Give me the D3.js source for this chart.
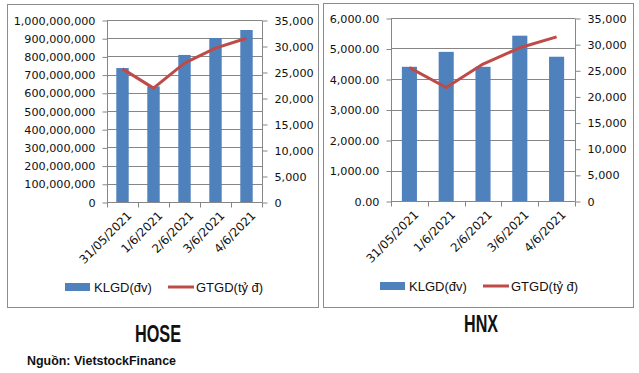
<!DOCTYPE html>
<html>
<head>
	<meta charset="utf-8">
	<script src="https://cdn.jsdelivr.net/npm/d3@7"></script>
	<style>
		html, body {
			padding: 0;
			margin: 0;
			background: #ffffff;
		}
	</style>
</head>
<body>
	<script>
		var width = 639, height = 373;

		// chart data
		var dates = ["31/05/2021", "1/6/2021", "2/6/2021", "3/6/2021", "4/6/2021"];
		var hoseKLGD = [736000000, 635000000, 808000000, 901000000, 945000000];
		var hoseGTGD = [25600, 21900, 26700, 29600, 31500];
		var hnxKLGD = [4400, 4890, 4400, 5420, 4730];
		var hnxGTGD = [25500, 21700, 26200, 29300, 31400];
		var hoseLeftTicks = [0, 100000000, 200000000, 300000000, 400000000, 500000000, 600000000, 700000000, 800000000, 900000000, 1000000000];
		var hnxLeftTicks = [0, 1000, 2000, 3000, 4000, 5000, 6000];
		var rightTicks = [0, 5000, 10000, 15000, 20000, 25000, 30000, 35000];
		var legendNames = ["KLGD(đv)", "GTGD(tỷ  đ)"];

		var barColor = "#4F81BD", lineColor = "#BE4B48", axisColor = "#868686";
		var tickFont = "DejaVu Sans, Verdana, sans-serif";

		var svg = d3.select("body").append("svg")
			.attr("width", width)
			.attr("height", height)
			.style("display", "block");

		function drawPanel(p) {
			var g = svg.append("g");

			// outer frame
			g.append("rect")
				.attr("x", p.frame[0] + 0.5).attr("y", p.frame[1] + 0.5)
				.attr("width", p.frame[2] - p.frame[0]).attr("height", p.frame[3] - p.frame[1])
				.attr("fill", "none").attr("stroke", "#8c8c8c").attr("stroke-width", 1);

			var x = d3.scaleBand().domain(dates).range([p.left, p.right]).paddingInner(p.pad).paddingOuter(p.pad / 2);
			var xb = d3.scaleBand().domain(dates).range([p.left, p.right]);
			var yL = d3.scaleLinear().domain([0, p.leftMax]).range([p.bottom, p.top]);
			var yR = d3.scaleLinear().domain([0, 35000]).range([p.bottom, p.top]);

			// gridlines
			g.selectAll(".grid").data(p.leftTicks.slice(1)).enter().append("line")
				.attr("x1", p.left).attr("x2", p.right)
				.attr("y1", function(d) { return Math.round(yL(d)) + 0.5; })
				.attr("y2", function(d) { return Math.round(yL(d)) + 0.5; })
				.attr("stroke", axisColor).attr("stroke-width", 1);

			// bars
			g.selectAll(".bar").data(p.bars).enter().append("rect")
				.attr("x", function(d, i) { return x(dates[i]); })
				.attr("y", function(d) { return yL(d); })
				.attr("width", x.bandwidth())
				.attr("height", function(d) { return p.bottom - yL(d); })
				.attr("fill", barColor);

			// left axis
			var la = g.append("g").attr("transform", "translate(" + (p.left + 0.5) + ",0.5)")
				.call(d3.axisLeft(yL).tickValues(p.leftTicks).tickFormat(p.leftFormat).tickSize(5).tickPadding(7));
			// right axis
			var ra = g.append("g").attr("transform", "translate(" + (p.right + 0.5) + ",0.5)")
				.call(d3.axisRight(yR).tickValues(rightTicks).tickFormat(d3.format(",")).tickSize(5).tickPadding(7));
			// x axis with ticks at category boundaries
			var xa = g.append("g").attr("transform", "translate(0," + (p.bottom + 0.5) + ")");
			xa.append("line").attr("x1", p.left).attr("x2", p.right).attr("stroke", axisColor);
			xa.selectAll(".xt").data(dates.concat(["end"])).enter().append("line")
				.attr("x1", function(d, i) { return Math.round(i < dates.length ? xb(d) : p.right) + 0.5; })
				.attr("x2", function(d, i) { return Math.round(i < dates.length ? xb(d) : p.right) + 0.5; })
				.attr("y1", 0).attr("y2", 5).attr("stroke", axisColor);
			xa.selectAll(".xl").data(dates).enter().append("text")
				.attr("transform", function(d) { return "translate(" + (xb(d) + xb.bandwidth() / 2 + 4) + ",8) rotate(-45)"; })
				.attr("text-anchor", "end").attr("dy", "0.7em")
				.style("font-family", tickFont).style("font-size", "11.8px").attr("fill", "#111")
				.text(function(d) { return d; });

			[la, ra].forEach(function(a) {
				a.select(".domain").attr("stroke", axisColor);
				a.selectAll(".tick line").attr("stroke", axisColor);
				a.selectAll(".tick text").style("font-family", tickFont).style("font-size", "11.2px").attr("fill", "#111");
			});
			la.select(".domain").attr("d", "M0," + p.top + "V" + p.bottom);
			ra.select(".domain").attr("d", "M0," + p.top + "V" + p.bottom);

			// line
			var line = d3.line()
				.x(function(d, i) { return xb(dates[i]) + xb.bandwidth() / 2; })
				.y(function(d) { return yR(d); });
			g.append("path").datum(p.line).attr("d", line)
				.attr("fill", "none").attr("stroke", lineColor).attr("stroke-width", 3)
				.attr("stroke-linejoin", "round");

			// legend
			var lg = g.append("g").attr("transform", "translate(0," + p.legendY + ")");
			lg.append("rect").attr("x", p.legendX).attr("y", -4).attr("width", 25).attr("height", 8).attr("fill", barColor);
			lg.append("text").attr("x", p.legendX + 29).attr("dy", "0.35em")
				.style("font-family", "Liberation Sans, Arial, sans-serif").style("font-size", "13px").attr("fill", "#111")
				.text(legendNames[0]);
			lg.append("line").attr("x1", p.legendX + 103).attr("x2", p.legendX + 129)
				.attr("stroke", lineColor).attr("stroke-width", 3);
			lg.append("text").attr("x", p.legendX + 131).attr("dy", "0.35em")
				.style("font-family", "Liberation Sans, Arial, sans-serif").style("font-size", "13px").attr("fill", "#111")
				.text(legendNames[1]);

			// title under the panel, condensed
			svg.append("text").attr("x", p.titleX - p.titleW / 2).attr("y", p.titleY)
				.attr("textLength", p.titleW).attr("lengthAdjust", "spacingAndGlyphs")
				.style("font-family", "Liberation Sans Narrow, Arial Narrow, sans-serif")
				.style("font-weight", "bold").style("font-size", "24px").attr("fill", "#111")
				.text(p.title);
		}

		drawPanel({
			frame: [7, 4, 318, 307],
			left: 107, right: 262, top: 20, bottom: 202, pad: 0.6,
			leftMax: 1000000000, leftTicks: hoseLeftTicks, leftFormat: d3.format(","),
			bars: hoseKLGD, line: hoseGTGD,
			legendX: 65, legendY: 287,
			title: "HOSE", titleX: 158, titleY: 342, titleW: 46
		});

		drawPanel({
			frame: [323, 3, 633, 307],
			left: 391, right: 575, top: 18, bottom: 201, pad: 0.59,
			leftMax: 6000, leftTicks: hnxLeftTicks, leftFormat: d3.format(",.2f"),
			bars: hnxKLGD, line: hnxGTGD,
			legendX: 380, legendY: 286,
			title: "HNX", titleX: 481, titleY: 332, titleW: 34
		});

		svg.append("text").attr("x", 27).attr("y", 365)
			.attr("textLength", 149).attr("lengthAdjust", "spacingAndGlyphs")
			.style("font-family", "Liberation Sans, Arial, sans-serif")
			.style("font-weight", "bold").style("font-size", "12.5px").attr("fill", "#111")
			.text("Nguồn: VietstockFinance");
	</script>
</body>
</html>
